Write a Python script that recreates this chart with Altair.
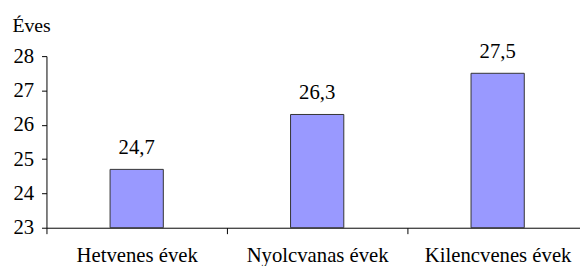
import altair as alt
import pandas as pd

categories = ["Hetvenes évek", "Nyolcvanas évek", "Kilencvenes évek"]
values = [24.7, 26.3, 27.5]
labels = ["24,7", "26,3", "27,5"]
y_ticks = [23, 24, 25, 26, 27, 28]

df = pd.DataFrame({"cat": categories, "val": values, "lab": labels})

FONT = "Times New Roman, Liberation Serif, serif"
FS = 21

x = alt.X("cat:N", sort=categories,
          scale=alt.Scale(paddingInner=0, paddingOuter=0, range=[0, 549]),
          axis=alt.Axis(title=None, labelAngle=0, tickBand="extent",
                        tickSize=6, labelPadding=11, labelFontSize=FS,
                        labelFont=FONT, labelColor="black", labelOverlap=False,
                        domainColor="black", tickColor="black"))
y = alt.Y("val:Q", scale=alt.Scale(domain=[23, 28], nice=False, zero=False),
          axis=alt.Axis(title="Éves", titleAngle=0, titleX=-35, titleY=-25,
                        titleAlign="left", titleBaseline="alphabetic",
                        titleFont=FONT, titleFontSize=20, titleFontWeight="normal",
                        titleColor="black", values=y_ticks,
                        grid=False, tickSize=5, labelPadding=8, labelFontSize=FS,
                        labelFont=FONT, labelColor="black", labelOverlap=False,
                        domainColor="black", tickColor="black", format="d"))

bars = alt.Chart(df).mark_bar(width=54, color="#9999FF", stroke="#333333",
                              strokeWidth=1).encode(x=x, y=y, y2=alt.datum(23))
text = alt.Chart(df).mark_text(baseline="alphabetic", dy=-16, font=FONT,
                               fontSize=FS, color="black").encode(
    x=x, y=y, text="lab:N")

chart = (bars + text).properties(
    width=541, height=174,
    autosize=alt.AutoSizeParams(type="none"),
    padding={"left": 39, "top": 47, "right": 0, "bottom": 37},
).configure(font=FONT).configure_axis(labelOverlap=False).configure_view(stroke=None)

chart.save("out.html", embed_options={"renderer": "svg", "actions": False})
